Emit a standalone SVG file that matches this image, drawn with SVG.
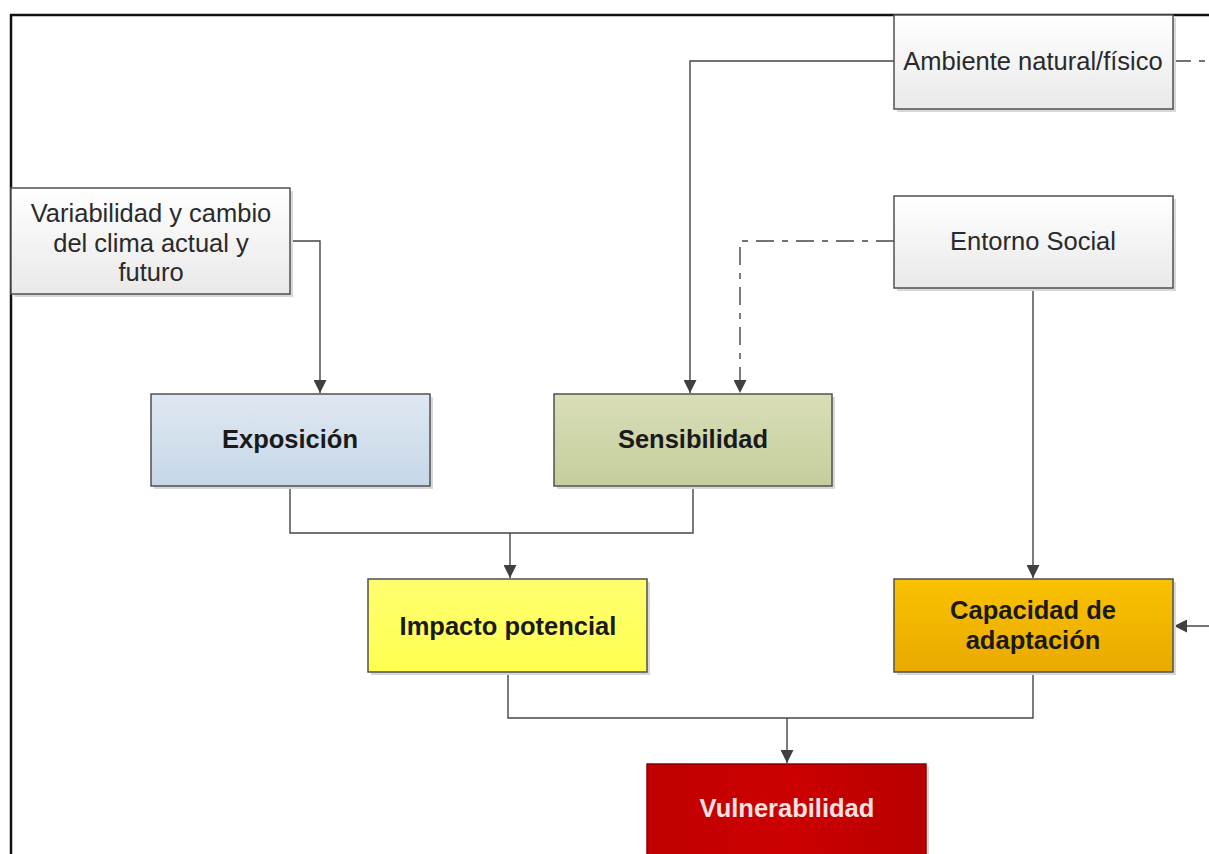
<svg xmlns="http://www.w3.org/2000/svg" width="1209" height="854" viewBox="0 0 1209 854">
<defs>
<linearGradient id="gGray" x1="0" y1="0" x2="0" y2="1"><stop offset="0" stop-color="#ffffff"/><stop offset="1" stop-color="#e9e9e9"/></linearGradient>
<linearGradient id="gBlue" x1="0" y1="0" x2="0" y2="1"><stop offset="0" stop-color="#dfe8f2"/><stop offset="1" stop-color="#c6d7e8"/></linearGradient>
<linearGradient id="gGreen" x1="0" y1="0" x2="0" y2="1"><stop offset="0" stop-color="#d9deb8"/><stop offset="1" stop-color="#c6cd9c"/></linearGradient>
<linearGradient id="gYellow" x1="0" y1="0" x2="0" y2="1"><stop offset="0" stop-color="#ffff70"/><stop offset="1" stop-color="#ffff50"/></linearGradient>
<linearGradient id="gOrange" x1="0" y1="0" x2="0" y2="1"><stop offset="0" stop-color="#f9c200"/><stop offset="1" stop-color="#eaa900"/></linearGradient>
<linearGradient id="gRed" x1="0" y1="0" x2="1" y2="0"><stop offset="0" stop-color="#c00000"/><stop offset="0.5" stop-color="#cc0000"/><stop offset="1" stop-color="#b80000"/></linearGradient>
<marker id="arr" viewBox="0 0 10 10" refX="10" refY="5" markerWidth="14" markerHeight="13" markerUnits="userSpaceOnUse" orient="auto"><path d="M0,0 L10,5 L0,10 z" fill="#404040"/></marker>
<style>
.box{stroke:#505050;stroke-width:1.5}
.shadow{fill:#d8d8d8}
.t{font-family:"Liberation Sans",Arial,sans-serif;font-size:25.5px;fill:#2a2a2a;text-anchor:middle}
.b{font-family:"Liberation Sans",Arial,sans-serif;font-size:25.5px;font-weight:bold;fill:#1a1a1a;text-anchor:middle}
.c{fill:none;stroke:#454545;stroke-width:1.4}
.d{fill:none;stroke:#454545;stroke-width:1.4;stroke-dasharray:18,8,6,8}
</style>
</defs>
<rect width="1209" height="854" fill="#ffffff"/>
<path d="M11,854 V15 H1209" fill="none" stroke="#111" stroke-width="2.5"/>

<g id="connectors">
<path class="c" d="M894,61 H690 V393" marker-end="url(#arr)"/>
<path class="d" d="M1173,61 H1209"/>
<path class="c" d="M290,241 H320 V393" marker-end="url(#arr)"/>
<path class="d" d="M894,241 H740 V393" marker-end="url(#arr)"/>
<path class="c" d="M1033,288 V578" marker-end="url(#arr)"/>
<path class="c" d="M290,486 V533 H693 V486"/>
<path class="c" d="M510,533 V578" marker-end="url(#arr)"/>
<path class="c" d="M508,672 V718 H1033 V672"/>
<path class="c" d="M787,718 V763" marker-end="url(#arr)"/>
<path class="c" d="M1209,626 H1174" marker-end="url(#arr)"/>
</g>

<g id="ambiente">
<rect class="shadow" x="897" y="18" width="279" height="94"/>
<rect class="box" x="894" y="15" width="279" height="94" fill="url(#gGray)"/>
<text class="t" x="1033" y="70">Ambiente natural/físico</text>
</g>

<g id="variabilidad">
<rect class="shadow" x="14" y="191" width="279" height="106"/>
<rect class="box" x="11" y="188" width="279" height="106" fill="url(#gGray)"/>
<text class="t" x="151" y="222">Variabilidad y cambio</text>
<text class="t" x="151" y="252">del clima actual y</text>
<text class="t" x="151" y="281">futuro</text>
</g>

<g id="entorno">
<rect class="shadow" x="897" y="199" width="279" height="92"/>
<rect class="box" x="894" y="196" width="279" height="92" fill="url(#gGray)"/>
<text class="t" x="1033" y="250">Entorno Social</text>
</g>

<g id="exposicion">
<rect class="shadow" x="154" y="397" width="279" height="92"/>
<rect class="box" x="151" y="394" width="279" height="92" fill="url(#gBlue)"/>
<text class="b" x="290" y="448">Exposición</text>
</g>

<g id="sensibilidad">
<rect class="shadow" x="557" y="397" width="278" height="92"/>
<rect class="box" x="554" y="394" width="278" height="92" fill="url(#gGreen)"/>
<text class="b" x="693" y="448">Sensibilidad</text>
</g>

<g id="impacto">
<rect class="shadow" x="371" y="582" width="279" height="93"/>
<rect class="box" x="368" y="579" width="279" height="93" fill="url(#gYellow)"/>
<text class="b" x="508" y="635">Impacto potencial</text>
</g>

<g id="capacidad">
<rect class="shadow" x="897" y="582" width="279" height="93"/>
<rect class="box" x="894" y="579" width="279" height="93" fill="url(#gOrange)"/>
<text class="b" x="1033" y="619">Capacidad de</text>
<text class="b" x="1033" y="649">adaptación</text>
</g>

<g id="vulnerabilidad">
<rect class="shadow" x="650" y="767" width="279" height="100"/>
<rect x="647" y="764" width="279" height="100" fill="url(#gRed)" stroke="#8a0000" stroke-width="1.5"/>
<text class="b" x="787" y="817" style="fill:#f6e2e2">Vulnerabilidad</text>
</g>
</svg>
